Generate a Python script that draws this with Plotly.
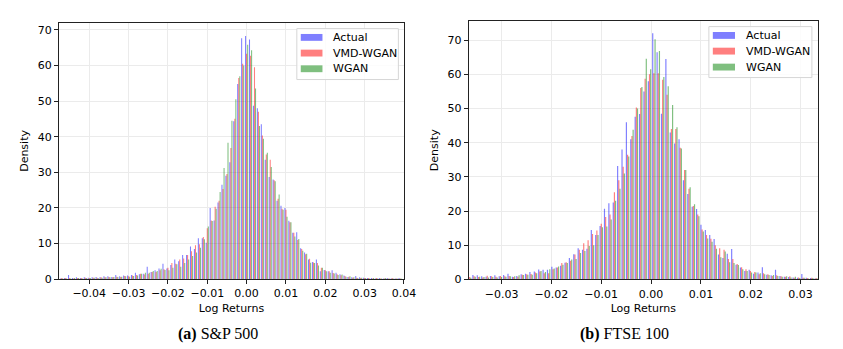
import numpy as np
import plotly.graph_objects as go

# S&P 500: bin centres every 0.001 from -0.047 to 0.039
sp_bin_start = -0.047
sp_bin_width = 0.001
sp_actual = [0.2, 0.3, 1.2, 0.3, 0.5, 0.3, 0.5, 0.4, 0.5, 0.6,
             0.5, 0.8, 0.8, 0.6, 1.2, 0.8, 1.0, 1.0, 1.2, 1.8,
             1.4, 1.5, 3.5, 2.0, 2.5, 3.0, 4.3, 3.0, 4.0, 5.5,
             5.0, 6.8, 6.8, 9.2, 8.5, 11.5, 11.5, 10.2, 20.0, 16.5,
             21.5, 26.5, 29.0, 32.8, 44.3, 54.8, 67.6, 68.3, 67.3, 48.7,
             48.0, 43.5, 33.5, 28.7, 28.0, 22.0, 20.6, 20.0, 16.4, 13.0,
             13.2, 8.7, 7.5, 5.5, 4.8, 5.5, 2.2, 2.6, 2.2, 2.5,
             1.8, 1.4, 1.0, 0.6, 0.5, 0.9, 0.5, 0.4, 0.3, 0.3,
             0.2, 0.3, 0.2, 0.3, 0.2, 0.2, 0.3]
sp_vmd = [0.3, 0.3, 0.3, 0.2, 0.3, 0.3, 0.4, 0.3, 0.4, 0.4,
          0.5, 0.5, 0.6, 0.5, 0.7, 0.6, 0.9, 0.8, 1.0, 1.2,
          1.5, 1.3, 1.5, 2.0, 2.0, 2.5, 2.8, 3.2, 4.5, 4.3,
          5.5, 5.8, 6.8, 7.8, 9.5, 9.8, 11.8, 14.3, 16.5, 20.3,
          22.0, 25.3, 29.5, 36.8, 45.0, 56.5, 60.5, 63.3, 62.7, 59.5,
          47.0, 40.3, 35.0, 33.5, 27.8, 22.6, 19.8, 19.5, 16.0, 13.0,
          11.0, 8.5, 7.0, 5.7, 4.7, 4.5, 3.2, 2.5, 2.2, 1.7,
          1.4, 1.1, 0.9, 0.7, 0.4, 0.4, 0.3, 0.3, 0.3, 0.2,
          0.3, 0.2, 0.2, 0.2, 0.3, 0.2, 0.2]
sp_wgan = [0.2, 0.2, 0.2, 0.3, 0.3, 0.2, 0.3, 0.3, 0.4, 0.3,
           0.4, 0.5, 0.5, 0.6, 0.6, 0.7, 0.8, 0.7, 0.9, 1.0,
           1.5, 1.8, 1.8, 2.3, 2.3, 2.9, 2.6, 2.5, 3.2, 4.2,
           3.5, 4.5, 5.5, 6.5, 7.5, 8.8, 11.2, 14.8, 16.3, 19.8,
           24.5, 31.2, 38.3, 44.5, 50.5, 57.0, 60.0, 65.8, 64.3, 53.5,
           43.0, 39.4, 35.5, 31.5, 27.5, 23.8, 19.5, 17.5, 16.0, 12.0,
           11.3, 8.0, 7.1, 4.6, 4.5, 3.8, 3.2, 2.2, 1.8, 1.6,
           1.2, 1.3, 0.7, 0.8, 0.5, 0.3, 0.4, 0.3, 0.2, 0.3,
           0.2, 0.2, 0.3, 0.2, 0.2, 0.2, 0.2]

# FTSE 100: 80 bins of width 0.00088
ft_bin_start = -0.03639
ft_bin_width = 0.00088
ft_actual = [0.6, 1.3, 1.2, 0.9, 0.8, 1.0, 1.2, 0.9, 1.3, 1.7,
             0.8, 1.0, 1.5, 1.7, 2.2, 2.3, 2.9, 2.8, 2.8, 3.7,
             3.5, 4.0, 4.9, 6.3, 7.4, 9.1, 8.7, 9.0, 14.5, 13.0,
             15.6, 20.7, 22.3, 22.5, 33.2, 38.0, 46.0, 41.0, 47.6, 48.4,
             55.0, 58.0, 72.0, 66.5, 48.5, 64.5, 43.0, 39.8, 41.0, 29.0,
             25.0, 21.3, 20.6, 16.0, 14.5, 13.0, 11.8, 7.3, 6.3, 7.5,
             8.9, 4.3, 3.5, 2.5, 2.8, 1.7, 2.0, 3.6, 1.4, 1.2,
             2.8, 1.0, 0.8, 0.7, 0.6, 0.5, 1.6, 0.5, 0.4, 0.3]
ft_vmd = [0.7, 0.9, 0.7, 0.6, 1.1, 0.9, 0.8, 1.0, 0.9, 1.0,
          0.7, 0.8, 1.4, 1.5, 1.6, 2.0, 2.3, 1.8, 1.8, 3.0,
          3.5, 4.8, 5.0, 5.5, 7.3, 8.7, 10.6, 11.5, 13.3, 14.3,
          16.3, 18.3, 19.0, 25.5, 29.0, 33.0, 36.5, 42.0, 50.3, 56.0,
          58.7, 60.0, 60.3, 60.3, 58.4, 54.0, 44.0, 44.0, 38.5, 32.0,
          26.5, 21.5, 19.0, 14.6, 13.0, 11.9, 10.0, 9.1, 8.7, 6.0,
          6.0, 4.5, 3.6, 3.0, 2.5, 2.2, 1.5, 1.8, 1.5, 1.0,
          1.2, 0.9, 0.8, 0.9, 0.5, 0.6, 0.5, 0.4, 0.5, 0.4]
ft_wgan = [0.5, 0.8, 0.8, 0.7, 0.6, 0.7, 0.6, 0.7, 0.8, 0.9,
           0.9, 1.2, 1.3, 1.4, 1.4, 1.8, 2.5, 2.2, 3.0, 3.2,
           3.8, 4.3, 4.8, 5.8, 6.0, 7.7, 8.3, 9.8, 10.0, 13.0,
           15.3, 15.5, 17.5, 23.0, 26.5, 31.0, 36.0, 43.8, 50.0, 56.3,
           64.6, 61.5, 70.3, 66.8, 59.2, 56.5, 51.0, 44.5, 38.3, 32.0,
           27.0, 22.0, 18.5, 14.0, 12.0, 11.0, 9.0, 6.5, 8.2, 5.0,
           4.8, 4.2, 3.0, 2.5, 2.0, 2.0, 1.8, 1.5, 1.3, 1.3,
           1.0, 0.8, 0.9, 0.6, 0.8, 0.4, 0.5, 0.3, 0.4, 0.3]

series_names = ["Actual", "VMD-WGAN", "WGAN"]
series_colors = ["rgba(0,0,255,0.5)", "rgba(255,0,0,0.5)", "rgba(0,128,0,0.5)"]

W, H = 843, 349

sp_x = sp_bin_start + sp_bin_width * np.arange(len(sp_actual))
ft_x = ft_bin_start + ft_bin_width * np.arange(len(ft_actual))

fig = go.Figure()
for name, color, ys in zip(series_names, series_colors, [sp_actual, sp_vmd, sp_wgan]):
    fig.add_trace(go.Bar(x=sp_x, y=ys, name=name, marker=dict(color=color, line=dict(width=0)),
                         xaxis="x", yaxis="y", showlegend=False, offsetgroup=name))
for name, color, ys in zip(series_names, series_colors, [ft_actual, ft_vmd, ft_wgan]):
    fig.add_trace(go.Bar(x=ft_x, y=ys, name=name, marker=dict(color=color, line=dict(width=0)),
                         xaxis="x2", yaxis="y2", showlegend=False, offsetgroup=name))

axis_font = dict(family="DejaVu Sans", size=11, color="black")
common = dict(showline=True, linecolor="#222", linewidth=1, mirror=True,
              showgrid=True, gridcolor="#ebebeb", gridwidth=1, zeroline=False,
              ticks="outside", ticklen=4, tickcolor="#222", tickfont=axis_font)

# hand-drawn legends (matplotlib style: wide flat patches, tight rows)
shapes = []
annotations = []
legend_boxes = [(293, 396, 21, 73, 297, 319, 328, [30, 46, 62]),
                (711, 815.5, 19, 71, 715, 737.5, 746.5, [28, 44, 60.3])]
for x0, x1, y0, y1, px0, px1, tx, rows in legend_boxes:
    shapes.append(dict(type="rect", xref="paper", yref="paper",
                       x0=x0 / W, x1=x1 / W, y0=1 - y1 / H, y1=1 - y0 / H,
                       fillcolor="rgba(255,255,255,0.85)", line=dict(color="#d6d6d6", width=1)))
    for name, color, ry in zip(series_names, series_colors, rows):
        shapes.append(dict(type="rect", xref="paper", yref="paper",
                           x0=px0 / W, x1=px1 / W, y0=1 - (ry + 3.5) / H, y1=1 - (ry - 3.5) / H,
                           fillcolor=color, line=dict(width=0)))
        annotations.append(dict(text=name, x=tx / W, y=1 - ry / H, xref="paper", yref="paper",
                                xanchor="left", yanchor="middle", showarrow=False, font=axis_font))

caption_font = dict(family="Liberation Serif", size=16, color="black")
annotations.append(dict(text="<b>(a)</b> S&amp;P 500", x=213 / W, y=1 - 333 / H, xref="paper",
                        yref="paper", xanchor="center", yanchor="middle", showarrow=False,
                        font=caption_font))
annotations.append(dict(text="<b>(b)</b> FTSE 100", x=625 / W, y=1 - 333 / H, xref="paper",
                        yref="paper", xanchor="center", yanchor="middle", showarrow=False,
                        font=caption_font))

fig.update_layout(
    width=W, height=H, autosize=False,
    margin=dict(l=0, r=0, t=0, b=0),
    paper_bgcolor="white", plot_bgcolor="white",
    barmode="group", bargap=0.2, bargroupgap=0,
    font=axis_font, showlegend=False,
    xaxis=dict(domain=[51.7 / W, 401.7 / W], range=[-0.0477, 0.04], dtick=0.01, tick0=0,
               tickformat=".2f", anchor="y",
               title=dict(text="Log Returns", font=axis_font, standoff=4), **common),
    yaxis=dict(domain=[1 - 276.7 / H, 1 - 15 / H], range=[0, 72], dtick=10, anchor="x",
               title=dict(text="Density", font=axis_font, standoff=6), **common),
    xaxis2=dict(domain=[467.3 / W, 821.7 / W], range=[-0.0366, 0.0335], dtick=0.01, tick0=0,
                tickformat=".2f", anchor="y2",
                title=dict(text="Log Returns", font=axis_font, standoff=4), **common),
    yaxis2=dict(domain=[1 - 277 / H, 1 - 13.3 / H], range=[0, 75.6], dtick=10, anchor="x2",
                title=dict(text="Density", font=axis_font, standoff=6), **common),
    shapes=shapes,
    annotations=annotations,
)

fig.write_html("out.html")
